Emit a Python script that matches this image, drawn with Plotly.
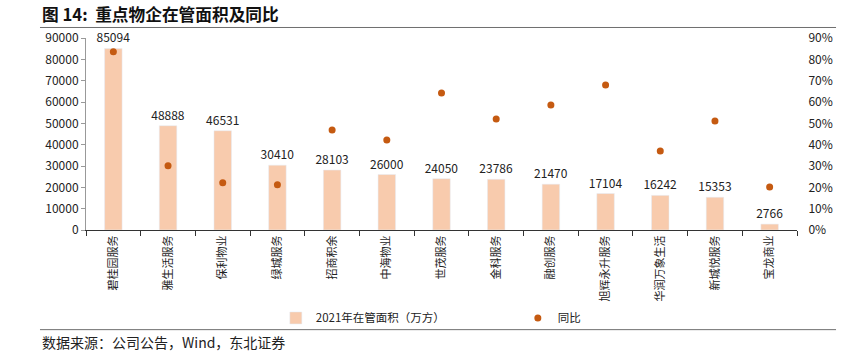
import plotly.graph_objects as go

categories = ["碧桂园服务", "雅生活服务", "保利物业", "绿城服务", "招商积余", "中海物业", "世茂服务",
              "金科服务", "融创服务", "旭辉永升服务", "华润万象生活", "新城悦服务", "宝龙商业"]
area_2021 = [85094, 48888, 46531, 30410, 28103, 26000, 24050, 23786, 21470, 17104, 16242, 15353, 2766]
yoy_pct = [83.6, 30.1, 22.2, 21.2, 46.9, 42.2, 64.2, 52.0, 58.6, 68.0, 37.0, 51.1, 20.2]
left_ticks = list(range(0, 90001, 10000))
right_ticks = list(range(0, 91, 10))

FONT = "Noto Sans CJK SC"
BAR_COLOR = "#F8CBAD"
DOT_COLOR = "#C55A11"

fig = go.Figure()
fig.add_trace(go.Bar(
    x=categories, y=area_2021, name="2021年在管面积（万方）",
    marker=dict(color=BAR_COLOR), width=0.32,
    text=[str(v) for v in area_2021], textposition="outside", constraintext="none",
    textfont=dict(size=12, color="#222222", family=FONT),
    cliponaxis=False,
))
fig.add_trace(go.Scatter(
    x=categories, y=yoy_pct, name="同比", mode="markers", yaxis="y2",
    marker=dict(color=DOT_COLOR, size=7),
))

fig.update_layout(
    width=848, height=356, autosize=False,
    margin=dict(l=86, r=51, t=38, b=126, pad=0),
    paper_bgcolor="white", plot_bgcolor="white",
    font=dict(family=FONT, size=12, color="#222222"),
    showlegend=True,
    legend=dict(orientation="h", x=0.267, y=-0.458, xanchor="left", yanchor="middle",
                entrywidth=197, entrywidthmode="pixels", bgcolor="rgba(0,0,0,0)",
                font=dict(size=11.5, family=FONT), itemwidth=30),
    xaxis=dict(type="category", range=[-0.5, 12.5], tickangle=-90,
               tickfont=dict(size=11, family=FONT),
               showline=True, linecolor="#333333", linewidth=1, automargin=False,
               ticks="outside", tickson="boundaries", ticklen=5, tickcolor="#333333",
               showgrid=False),
    yaxis=dict(range=[0, 90000], tickvals=left_ticks, ticktext=[str(v) for v in left_ticks],
               showline=True, linecolor="#999999", linewidth=1, ticks="outside", ticklen=4,
               tickcolor="#999999", showgrid=False, zeroline=False, automargin=False,
               tickfont=dict(size=12, family=FONT)),
    yaxis2=dict(range=[0, 90], overlaying="y", side="right", tickvals=right_ticks,
                ticktext=[f"{v}%" for v in right_ticks], showgrid=False, zeroline=False,
                showline=False, ticks="outside", ticklen=8, tickcolor="rgba(0,0,0,0)",
                automargin=False, tickfont=dict(size=12, family=FONT)),
    shapes=[
        dict(type="line", xref="paper", yref="paper", x0=-0.0647, x1=1.0549, y0=1.0547, y1=1.0547,
             line=dict(color="#6f6f6f", width=1)),
        dict(type="line", xref="paper", yref="paper", x0=-0.0647, x1=1.0549, y0=-0.519, y1=-0.519,
             line=dict(color="#6f6f6f", width=1)),
    ],
    annotations=[
        dict(text="<b>图 14:  重点物企在管面积及同比</b>", xref="paper", yref="paper",
             x=-0.0647, y=1.125, xanchor="left", yanchor="middle", showarrow=False,
             font=dict(size=16.7, family=FONT, color="#111111")),
        dict(text="数据来源：公司公告，Wind，东北证券", xref="paper", yref="paper",
             x=-0.0647, y=-0.583, xanchor="left", yanchor="middle", showarrow=False,
             font=dict(size=14, family=FONT, color="#222222")),
    ],
)

# remove the browser's default 8px page margin so the figure sits at the window's corner
fig.write_html("out.html", config={"displayModeBar": False},
               post_script="document.body.style.margin='0';")
